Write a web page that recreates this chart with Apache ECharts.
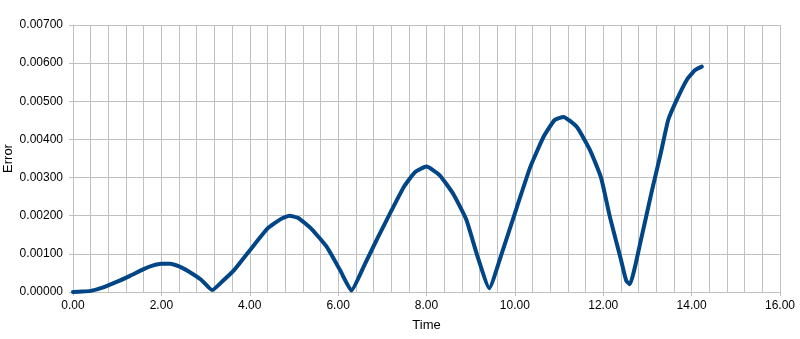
<!DOCTYPE html>
<html>
<head>
<meta charset="utf-8">
<script src="https://cdn.jsdelivr.net/npm/echarts@6/dist/echarts.min.js"></script>
<style>
html,body{margin:0;padding:0;background:#fff;}
#chart{width:800px;height:339px;}
</style>
</head>
<body>
<div id="chart"></div>
<script>
const time = [0, 0.2, 0.4, 0.7, 1.0, 1.3, 1.6, 1.8, 2.0, 2.2, 2.4, 2.6, 2.9, 3.15, 3.4, 3.65, 4.0, 4.4, 4.7, 4.9, 5.1, 5.4, 5.75, 6.05, 6.3, 6.6, 6.9, 7.2, 7.5, 7.75, 8.0, 8.3, 8.6, 8.9, 9.15, 9.42, 9.7, 10.05, 10.35, 10.65, 10.9, 11.1, 11.4, 11.7, 11.95, 12.15, 12.4, 12.52, 12.6, 12.85, 13.1, 13.3, 13.47, 13.66, 13.89, 14.08, 14.23];
const error = [0, 0.00001, 0.00003, 0.00013, 0.00027, 0.00043, 0.00060, 0.00069, 0.00074, 0.00074, 0.00067, 0.00055, 0.00032, 0.00005, 0.00030, 0.00058, 0.00109, 0.00166, 0.00191, 0.00200, 0.00194, 0.00165, 0.00117, 0.00056, 0.00004, 0.00072, 0.00143, 0.00212, 0.00278, 0.00315, 0.00329, 0.00306, 0.00258, 0.00190, 0.00095, 0.00010, 0.00100, 0.00224, 0.00328, 0.00407, 0.00451, 0.00459, 0.00433, 0.00372, 0.00300, 0.00197, 0.00085, 0.00030, 0.00020, 0.00135, 0.00265, 0.00363, 0.00451, 0.00503, 0.00556, 0.00582, 0.00591];
const xTicks = {min: 0, max: 16, interval: 2};
const yTicks = {min: 0, max: 0.007, interval: 0.001};
const xName = 'Time';
const yName = 'Error';

const points = time.map((t, i) => [t, error[i]]);
const gridColor = '#c0c0c0';
const font = 'Liberation Sans, Arial, sans-serif';

const chart = echarts.init(document.getElementById('chart'), null, {renderer: 'canvas'});
chart.setOption({
  animation: false,
  grid: {left: 73, right: 20, top: 25, bottom: 47, containLabel: false, outerBoundsMode: 'none'},
  xAxis: {
    type: 'value',
    min: xTicks.min, max: xTicks.max, interval: xTicks.interval,
    name: xName, nameLocation: 'middle', nameGap: 27, nameMoveOverlap: false,
    nameTextStyle: {fontFamily: font, fontSize: 13, color: '#000'},
    axisLine: {show: true, lineStyle: {color: gridColor, width: 1}},
    axisTick: {show: true, length: 4, lineStyle: {color: gridColor}},
    minorTick: {show: false, splitNumber: 5},
    splitLine: {show: true, lineStyle: {color: gridColor, width: 1}},
    minorSplitLine: {show: true, lineStyle: {color: gridColor, width: 1}},
    axisLabel: {fontFamily: font, fontSize: 12, color: '#000', margin: 8,
      formatter: v => v.toFixed(2)}
  },
  yAxis: {
    type: 'value',
    min: yTicks.min, max: yTicks.max, interval: yTicks.interval,
    name: yName, nameLocation: 'middle', nameGap: 58, nameMoveOverlap: false,
    nameTextStyle: {fontFamily: font, fontSize: 13, color: '#000'},
    axisLine: {show: true, lineStyle: {color: gridColor, width: 1}},
    axisTick: {show: true, length: 4, lineStyle: {color: gridColor}},
    splitLine: {show: true, lineStyle: {color: gridColor, width: 1}},
    axisLabel: {fontFamily: font, fontSize: 12, color: '#000', margin: 10,
      formatter: v => v.toFixed(5)}
  },
  series: [{
    type: 'line',
    data: points,
    showSymbol: false,
    smooth: 0.15,
    lineStyle: {color: '#004586', width: 4, cap: 'round', join: 'round'},
    itemStyle: {color: '#004586'}
  }]
});
</script>
</body>
</html>
